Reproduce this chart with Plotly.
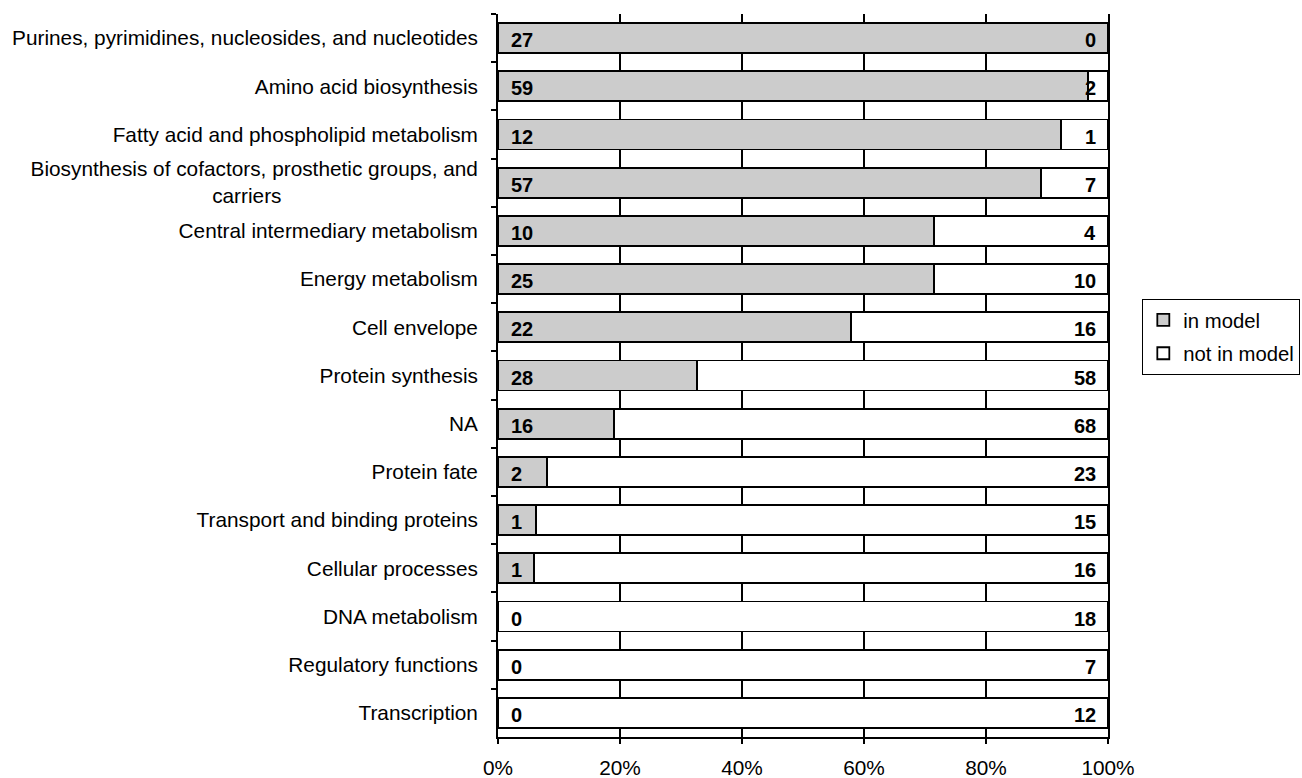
import plotly.graph_objects as go

NBSP = "\u00a0"
categories = [
    "Purines, pyrimidines, nucleosides, and nucleotides",
    "Amino acid biosynthesis",
    "Fatty acid and phospholipid metabolism",
    "Biosynthesis of cofactors, prosthetic groups, and<br>carriers" + NBSP * 34,
    "Central intermediary metabolism",
    "Energy metabolism",
    "Cell envelope",
    "Protein synthesis",
    "NA",
    "Protein fate",
    "Transport and binding proteins",
    "Cellular processes",
    "DNA metabolism",
    "Regulatory functions",
    "Transcription",
]
in_model = [27, 59, 12, 57, 10, 25, 22, 28, 16, 2, 1, 1, 0, 0, 0]
not_in_model = [0, 2, 1, 7, 4, 10, 16, 58, 68, 23, 15, 16, 18, 7, 12]
x_ticks = [0, 20, 40, 60, 80, 100]
x_tick_labels = ["0%", "20%", "40%", "60%", "80%", "100%"]

FONT = "Liberation Sans, Arial, sans-serif"
FS = 20.8

fig = go.Figure()
fig.add_trace(go.Bar(
    y=categories, x=in_model, orientation="h", name="in model",
    marker=dict(color="#cccccc", line=dict(color="black", width=1.8)),
    legendgroup="a",
))
fig.add_trace(go.Bar(
    y=categories, x=not_in_model, orientation="h", name="not in model",
    marker=dict(color="white", line=dict(color="black", width=1.8)),
    legendgroup="b",
))

annotations = []
for cat, a, b in zip(categories, in_model, not_in_model):
    annotations.append(dict(
        x=0, xref="paper", y=cat, yref="y", text=f"<b>{a}</b>",
        xanchor="left", yanchor="middle", showarrow=False, xshift=11, yshift=-2,
        font=dict(family=FONT, size=20, color="black"),
    ))
    annotations.append(dict(
        x=1, xref="paper", y=cat, yref="y", text=f"<b>{b}</b>",
        xanchor="right", yanchor="middle", showarrow=False, xshift=-10, yshift=-2,
        font=dict(family=FONT, size=20, color="black"),
    ))

fig.update_layout(
    width=1302, height=778,
    margin=dict(l=498, r=194, t=14, b=41),
    barmode="stack", barnorm="percent", bargap=0.38,
    plot_bgcolor="white", paper_bgcolor="white",
    font=dict(family=FONT, size=FS, color="black"),
    annotations=annotations,
    showlegend=True,
    legend=dict(
        xref="container", yref="container",
        x=0.8772, y=0.6157, xanchor="left", yanchor="top",
        bordercolor="black", borderwidth=1.2, bgcolor="white",
        traceorder="grouped", tracegroupgap=4, itemwidth=30,
        font=dict(family=FONT, size=20.3, color="black"),
    ),
    xaxis=dict(
        range=[0, 100], tickvals=x_ticks, ticktext=x_tick_labels,
        showgrid=True, gridcolor="black", gridwidth=1.8,
        showline=True, linecolor="black", linewidth=1.8,
        ticks="outside", ticklen=5, tickcolor="black", tickwidth=1.8,
        zeroline=False, automargin=False, ticklabelstandoff=6,
        fixedrange=True,
    ),
    yaxis=dict(
        autorange="reversed", type="category",
        showline=True, linecolor="black", linewidth=1.8, mirror=True,
        ticks="outside", ticklen=5, tickcolor="black", tickwidth=1.8,
        tickson="boundaries", showgrid=False, automargin=False,
        ticklabelstandoff=14,
    ),
)

fig.write_html(
    "out.html",
    config={"displayModeBar": False},
    post_script="document.body.style.margin='0';document.body.style.overflow='hidden';",
)
